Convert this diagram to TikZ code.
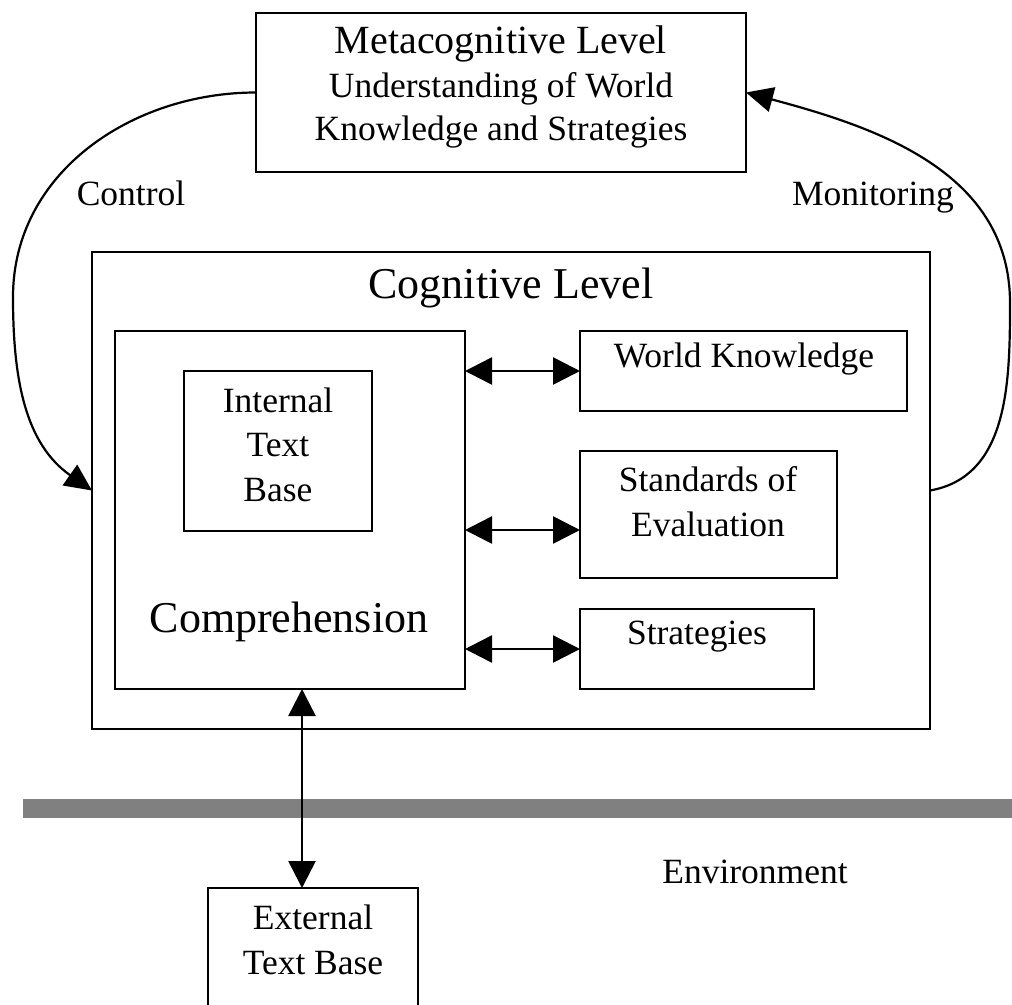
\documentclass[tikz,border=0pt]{standalone}
\usepackage{fontspec}
\setmainfont{Liberation Serif}
\usetikzlibrary{arrows.meta,calc}
\definecolor{barGray}{RGB}{128,128,128}

\begin{document}
\begin{tikzpicture}[x=1pt,y=1pt,
  box/.style={draw, line width=2.8pt, inner sep=0pt, outer sep=0pt},
  txt/.style={anchor=base, inner sep=0pt, font=\fontsize{35.5}{42}\selectfont},
  bigtxt/.style={anchor=base, inner sep=0pt, font=\fontsize{44}{50}\selectfont},
  titletxt/.style={anchor=base, inner sep=0pt, font=\fontsize{40}{46}\selectfont},
  tip/.style={Triangle[length=27pt,width=27pt]},
  dbl/.style={line width=2.6pt, {Triangle[length=27pt,width=27pt]}-{Triangle[length=27pt,width=27pt]}},
  curve/.style={line width=2.2pt, -{Triangle[length=27pt,width=25pt]}}
]
\useasboundingbox (0,0) rectangle (1012,-1004);
\clip (0,0) rectangle (1012,-1004);

% boundary between mind and environment
\fill[barGray] (23,-799) rectangle (1020,-818);

% boxes
\node[box, minimum width=490pt, minimum height=159pt] (meta) at (501,-92.5) {};
\node[box, minimum width=838pt, minimum height=477pt] (cog) at (511,-490.5) {};
\node[box, minimum width=350pt, minimum height=358pt] (comp) at (290,-510) {};
\node[box, minimum width=188pt, minimum height=160pt] (intb) at (278,-451) {};
\node[box, minimum width=327pt, minimum height=80pt] (wk) at (743.5,-371) {};
\node[box, minimum width=257pt, minimum height=127pt] (std) at (708.5,-514.5) {};
\node[box, minimum width=234pt, minimum height=80pt] (strat) at (697,-649) {};
\node[box, minimum width=210pt, minimum height=152pt] (ext) at (313,-964) {};

% texts
\node[titletxt] (metaA) at (501,-53) {Metacognitive Level};
\node[txt] (metaB) at (501,-97) {Understanding of World};
\node[txt] (metaC) at (501,-140) {Knowledge and Strategies};
\node[txt] (ctl) at (131,-205) {Control};
\node[txt] (mon) at (873,-205) {Monitoring};
\node[bigtxt] (cogT) at (511,-298) {Cognitive Level};
\node[txt] (intA) at (278,-412) {Internal};
\node[txt] (intB) at (278,-456) {Text};
\node[txt] (intC) at (278,-501) {Base};
\node[bigtxt] (compT) at (289,-632) {Comprehension};
\node[txt] (wkT) at (744,-367) {World Knowledge};
\node[txt] (stdA) at (708,-491) {Standards of};
\node[txt] (stdB) at (708,-536) {Evaluation};
\node[txt] (stratT) at (697,-644) {Strategies};
\node[txt] (env) at (755,-883) {Environment};
\node[txt] (extA) at (313,-929) {External};
\node[txt] (extB) at (313,-974) {Text Base};

% two-way links between comprehension and the knowledge stores
\draw[dbl] (comp.east |- wk.west) -- (wk.west);
\draw[dbl] ($(comp.east |- std.west)+(0,-15.5)$) -- ($(std.west)+(0,-15.5)$);
\draw[dbl] (comp.east |- strat.west) -- (strat.west);

% link to the external text base
\coordinate (vt) at ($(comp.south)+(12,0)$);
\draw[dbl] (vt) -- (vt |- ext.north);

% control and monitoring loops
\coordinate (lbend) at (13,-297);
\coordinate (rbend) at (1010,-303);
\draw[curve] (meta.west) to[out=180,in=90] (lbend) to[out=-90,in=145] (cog.west);
\draw[curve] (cog.east) to[out=10,in=-90] (rbend) to[out=90,in=-15] (meta.east);
\end{tikzpicture}
\end{document}
